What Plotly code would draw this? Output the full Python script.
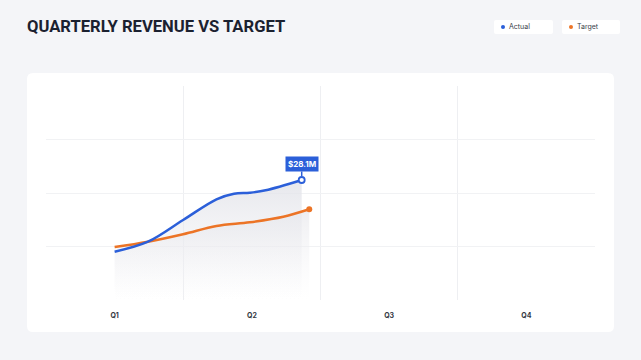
import plotly.graph_objects as go

# ---- data (x in quarter units, Q1 = 0) ----
quarters = ["Q1", "Q2", "Q3", "Q4"]
actual_x = [0.0, 0.243, 0.499, 0.742, 0.87, 0.985, 1.1, 1.363]
actual_y = [18.72, 20.03, 22.87, 25.58, 26.31, 26.44, 26.75, 28.1]
target_x = [0.0, 0.243, 0.499, 0.742, 0.985, 1.229, 1.418]
target_y = [19.33, 20.03, 21.0, 22.08, 22.57, 23.3, 24.27]
highlight_label = "$28.1M"
series_names = ["Actual", "Target"]
series_colors = ["#2b5fd9", "#ec7426"]

Y0, Y1 = 12.4, 40.4
W, H = 641, 360


def rrect(x0, y0, x1, y1, r):
    """rounded rect path in paper coords from pixel box"""
    X = lambda v: v / W
    Y = lambda v: 1 - v / H
    return (f"M {X(x0+r)},{Y(y0)} L {X(x1-r)},{Y(y0)} Q {X(x1)},{Y(y0)} {X(x1)},{Y(y0+r)} "
            f"L {X(x1)},{Y(y1-r)} Q {X(x1)},{Y(y1)} {X(x1-r)},{Y(y1)} "
            f"L {X(x0+r)},{Y(y1)} Q {X(x0)},{Y(y1)} {X(x0)},{Y(y1-r)} "
            f"L {X(x0)},{Y(y0+r)} Q {X(x0)},{Y(y0)} {X(x0+r)},{Y(y0)} Z")


fig = go.Figure()

# gradient fills
fig.add_trace(go.Scatter(
    x=target_x, y=target_y, mode="none", fill="tozeroy", line_shape="spline",
    fillgradient=dict(type="vertical", start=Y0, stop=target_y[-1],
                      colorscale=[[0, "rgba(245,245,247,0)"], [1, "rgba(232,232,236,0.75)"]]),
    hoverinfo="skip", showlegend=False))
fig.add_trace(go.Scatter(
    x=actual_x, y=actual_y, mode="none", fill="tozeroy", line_shape="spline",
    fillgradient=dict(type="vertical", start=Y0, stop=actual_y[-1],
                      colorscale=[[0, "rgba(240,240,243,0)"], [1, "rgba(226,227,233,0.85)"]]),
    hoverinfo="skip", showlegend=False))

# lines
fig.add_trace(go.Scatter(x=target_x, y=target_y, mode="lines", line_shape="spline",
                         line=dict(color=series_colors[1], width=2.5), name=series_names[1],
                         showlegend=False))
fig.add_trace(go.Scatter(x=actual_x, y=actual_y, mode="lines", line_shape="spline",
                         line=dict(color=series_colors[0], width=2.5), name=series_names[0],
                         showlegend=False))
# end markers
fig.add_trace(go.Scatter(x=[target_x[-1]], y=[target_y[-1]], mode="markers",
                         marker=dict(color=series_colors[1], size=6), showlegend=False))
fig.add_trace(go.Scatter(x=[actual_x[-1]], y=[actual_y[-1]], mode="markers",
                         marker=dict(color="white", size=6, line=dict(color=series_colors[0], width=1.8)),
                         showlegend=False))

# tooltip
fig.add_annotation(x=actual_x[-1], y=actual_y[-1], text="<b>" + highlight_label + "</b>",
                   showarrow=True, ax=0, ay=-16, arrowhead=0, arrowwidth=1.5,
                   arrowcolor=series_colors[0], standoff=4, bgcolor=series_colors[0],
                   borderpad=2, font=dict(color="white", size=8, family="Inter"))

# card background
fig.add_shape(type="path", xref="paper", yref="paper", path=rrect(27, 73, 614, 332, 6),
              fillcolor="white", line=dict(width=0), layer="below")

# title
fig.add_annotation(xref="paper", yref="paper", x=24.5/W, y=1-27/H, xanchor="left", yanchor="middle",
                   text="<b>QUARTERLY REVENUE VS TARGET</b>", showarrow=False,
                   font=dict(family="Roboto", size=16.6, color="#1b2130"))

# custom legend
leg = [(494, 553), (562, 620)]
for (x0, x1), name, col in zip(leg, series_names, series_colors):
    fig.add_shape(type="path", xref="paper", yref="paper", path=rrect(x0, 20, x1, 34, 2),
                  fillcolor="white", line=dict(width=0))
    fig.add_shape(type="circle", xref="paper", yref="paper", x0=(x0+7)/W, x1=(x0+11)/W,
                  y0=1-29/H, y1=1-25/H, fillcolor=col, line=dict(width=0))
    fig.add_annotation(xref="paper", yref="paper", x=(x0+13)/W, y=1-27/H, xanchor="left",
                       yanchor="middle", text=name, showarrow=False,
                       font=dict(family="Inter", size=7, color="#3a3f4a"))

fig.update_layout(
    width=W, height=H, margin=dict(l=0, r=0, t=0, b=0),
    paper_bgcolor="#f4f5f8", plot_bgcolor="rgba(0,0,0,0)",
    showlegend=False,
    xaxis=dict(domain=[46/W, 595/W], range=[-0.5, 3.5], tickmode="array",
               tickvals=list(range(len(quarters))), ticktext=quarters, showgrid=False,
               zeroline=False, showline=False, ticks="", ticklabelstandoff=10,
               tickfont=dict(family="Inter", size=7, color="#333842", weight="bold"),
               minor=dict(tick0=0.5, dtick=1, showgrid=True, gridcolor="#eeeff2", gridwidth=1)),
    yaxis=dict(domain=[1-300/H, 1-86/H], range=[Y0, Y1], tickmode="array",
               tickvals=[Y0 + 7*i for i in range(1, 5)], showticklabels=False,
               showgrid=True, gridcolor="#f1f2f4", zeroline=False, showline=False),
)

fig.write_html("out.html")
